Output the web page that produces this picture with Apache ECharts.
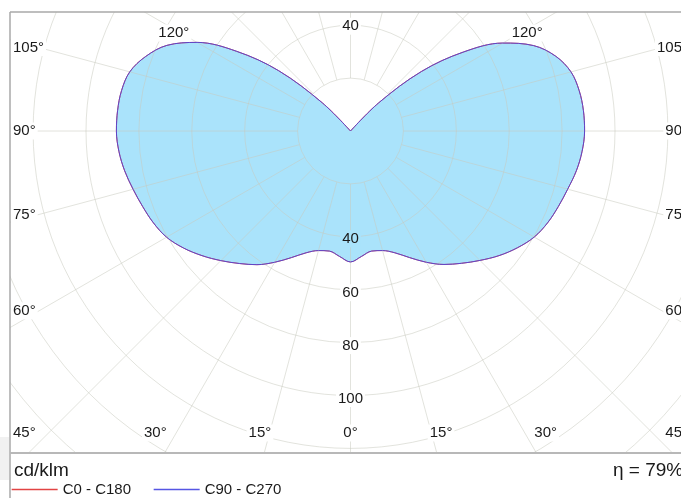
<!DOCTYPE html>
<html>
<head>
<meta charset="utf-8">
<script src="https://cdn.jsdelivr.net/npm/echarts@6/dist/echarts.min.js"></script>
<style>
  html, body { margin: 0; padding: 0; background: #fff; }
  #chart { width: 681px; height: 498px; }
</style>
</head>
<body>
<div id="chart"></div>
<script>
// Gamma angles of the measured sweep (0 = straight down, + = right half, - = left half)
const gammaAngles = [
  -180, -175, -170, -165, -160, -155, -150, -145, -140, -135, -130, -125,
  -120, -115, -110, -105, -100, -95, -90, -85, -80, -75, -70, -65,
  -60, -55, -50, -45, -40, -35, -30, -25, -20, -15, -10, -5,
  0, 5, 10, 15, 20, 25, 30, 35, 40, 45, 50, 55,
  60, 65, 70, 75, 80, 85, 90, 95, 100, 105, 110, 115,
  120, 125, 130, 135, 140, 145, 150, 155, 160, 165, 170, 175, 180
];

// Luminous intensity, cd/klm, C0 - C180 plane
const intensityC0C180 = [
  0, 0, 0, 0, 0, 0, 0, 0, 0, 15.0, 35.5, 52.5,
  67.0, 76.6, 82.4, 86.4, 87.9, 88.4, 88.5, 87.9, 86.7, 85.1, 83.6, 82.2,
  80.3, 77.1, 73.3, 69.3, 65.4, 61.7, 57.3, 52.8, 49.0, 46.8, 46.1, 47.6,
  49.5, 47.6, 46.1, 46.8, 49.0, 52.8, 57.3, 61.6, 65.3, 69.2, 73.3, 77.0,
  80.2, 82.2, 83.6, 85.0, 86.7, 87.9, 88.5, 88.4, 87.8, 86.3, 82.6, 76.4,
  66.5, 52.0, 35.0, 15.0, 0, 0, 0, 0, 0, 0, 0, 0, 0
];

// Luminous intensity, cd/klm, C90 - C270 plane
const intensityC90C270 = [
  0, 0, 0, 0, 0, 0, 0, 0, 0, 15.0, 35.5, 52.5,
  67.0, 76.6, 82.4, 86.4, 87.9, 88.4, 88.5, 87.9, 86.7, 85.1, 83.6, 82.2,
  80.3, 77.1, 73.3, 69.3, 65.4, 61.7, 57.3, 52.8, 49.0, 46.8, 46.1, 47.6,
  49.5, 47.6, 46.1, 46.8, 49.0, 52.8, 57.3, 61.6, 65.3, 69.2, 73.3, 77.0,
  80.2, 82.2, 83.6, 85.0, 86.7, 87.9, 88.5, 88.4, 87.8, 86.3, 82.6, 76.4,
  66.5, 52.0, 35.0, 15.0, 0, 0, 0, 0, 0, 0, 0, 0, 0
];

// Tick labels
const angleTickValues = [-120, -105, -90, -75, -60, -45, -30, -15, 0, 15, 30, 45, 60, 75, 90, 105, 120];
const radiusTicksDown = [40, 60, 80, 100];
const radiusTicksUp = [40];

const seriesNames = ['C0 - C180', 'C90 - C270'];
const unitText = 'cd/klm';
const efficiencyText = 'η = 79%';

// ---- layout ----
const CX = 350.5, CY = 131;           // pole of the diagram
const PX_PER_UNIT = 2.645;            // radial scale
const R_MAX = 180;                    // radial axis maximum
const R_PX = R_MAX * PX_PER_UNIT;
const FRAME = { left: 10, top: 12, bottom: 453, right: 691 };
const FONT = '"Liberation Sans", Arial, sans-serif';
const FILL = '#aae3fb';
const GRID = 'rgba(200,201,190,0.52)';
const RED = '#e24444', BLUE = '#5656e4';
const INK = '#1a1a1a';

const chart = echarts.init(document.getElementById('chart'), null, { renderer: 'canvas' });

// anchor each angle label where its spoke meets the inset frame
function angleLabel(a) {
  const g = Math.abs(a) * Math.PI / 180, s = a < 0 ? -1 : 1;
  const dx = s * Math.sin(g), dy = Math.cos(g);
  const text = Math.abs(a) + '°';
  let x, y, align = 'center';
  if (Math.abs(a) <= 45) {
    y = FRAME.bottom - 20;
    x = CX + dx / dy * (FRAME.bottom + 16 - CY);
    if (x - 13 < FRAME.left + 3) { x = FRAME.left + 1; align = 'left'; }
    if (x + 13 > FRAME.right - 3) { x = FRAME.right - 1; align = 'right'; }
  } else if (Math.abs(a) <= 105) {
    y = CY + dy / Math.abs(dx) * (CX - FRAME.left - 29);
    if (s < 0) { x = FRAME.left + 1; align = 'left'; }
    else { x = FRAME.right - 1; align = 'right'; }
  } else {
    y = FRAME.top + 21;
    x = CX + dx / (-dy) * (CY - FRAME.top - 17);
  }
  return {
    type: 'text', z: 120, silent: true,
    style: {
      text, x, y, align, verticalAlign: 'middle',
      font: '15px ' + FONT, fill: INK,
      backgroundColor: '#fff', padding: [1, 2, 1, 2]
    }
  };
}

const masks = [
  { type: 'rect', z: 100, silent: true, shape: { x: 0, y: 0, width: 681, height: FRAME.top }, style: { fill: '#fff' } },
  { type: 'rect', z: 100, silent: true, shape: { x: 0, y: 0, width: FRAME.left, height: 498 }, style: { fill: '#fff' } },
  { type: 'rect', z: 100, silent: true, shape: { x: 0, y: FRAME.bottom, width: 681, height: 498 - FRAME.bottom }, style: { fill: '#fff' } },
  { type: 'rect', z: 101, silent: true, shape: { x: 0, y: 437, width: FRAME.left - 1, height: 43 }, style: { fill: '#f1f1f1' } }
];

const frameLines = [
  { type: 'line', z: 110, silent: true, shape: { x1: FRAME.left, y1: FRAME.top, x2: 681, y2: FRAME.top }, style: { stroke: '#a8a8a8', lineWidth: 1.5 } },
  { type: 'line', z: 110, silent: true, shape: { x1: FRAME.left, y1: FRAME.top, x2: FRAME.left, y2: 498 }, style: { stroke: '#a8a8a8', lineWidth: 1.5 } },
  { type: 'line', z: 110, silent: true, shape: { x1: FRAME.left, y1: FRAME.bottom, x2: 681, y2: FRAME.bottom }, style: { stroke: '#b8b8b8', lineWidth: 2 } }
];

const footerTexts = [
  { type: 'text', z: 120, silent: true, style: { text: unitText, x: 14, y: 471, verticalAlign: 'middle', font: '19px ' + FONT, fill: INK } },
  { type: 'text', z: 120, silent: true, style: { text: efficiencyText, x: 613, y: 471, verticalAlign: 'middle', font: '19px ' + FONT, fill: INK } }
];

const radiusLabelData = radiusTicksDown.map((r, i) => ({
  value: [r, 0],
  label: i === 0 ? { backgroundColor: FILL, offset: [0, 2] } : { offset: [0, 3] }
})).concat(radiusTicksUp.map(r => ({ value: [r, 180], label: { offset: [0, 1] } })));

chart.setOption({
  animation: false,
  backgroundColor: '#fff',
  polar: [
    { center: [CX, CY], radius: [0, R_PX] },
    { center: [CX, CY], radius: [20 * PX_PER_UNIT, R_PX] }
  ],
  angleAxis: [
    {
      polarIndex: 0, type: 'value', min: -180, max: 180, startAngle: 90, clockwise: false,
      axisLine: { show: false }, axisTick: { show: false }, axisLabel: { show: false },
      splitLine: { show: false }
    },
    {
      polarIndex: 1, type: 'value', min: -180, max: 180, interval: 15, startAngle: 90, clockwise: false,
      z: 4,
      axisLine: { show: false }, axisTick: { show: false }, axisLabel: { show: false },
      splitLine: { show: true, lineStyle: { color: GRID, width: 1 } }
    }
  ],
  radiusAxis: [
    {
      polarIndex: 0, type: 'value', min: 0, max: R_MAX, interval: 20,
      z: 4,
      axisLine: { show: false }, axisTick: { show: false }, axisLabel: { show: false },
      splitLine: { show: true, lineStyle: { color: GRID, width: 1 } }
    },
    {
      polarIndex: 1, type: 'value', min: 0, max: R_MAX,
      axisLine: { show: false }, axisTick: { show: false }, axisLabel: { show: false },
      splitLine: { show: false }
    }
  ],
  legend: {
    left: 11, top: 482, padding: 0, z: 130,
    itemWidth: 46, itemHeight: 14, itemGap: 22,
    textStyle: { fontSize: 15, fontFamily: FONT, color: INK },
    data: [
      { name: seriesNames[0], itemStyle: { opacity: 0 }, lineStyle: { color: RED, width: 1.3, opacity: 1 } },
      { name: seriesNames[1], itemStyle: { opacity: 0 }, lineStyle: { color: BLUE, width: 1.3, opacity: 1 } }
    ]
  },
  series: [
    {
      name: seriesNames[0], type: 'line', coordinateSystem: 'polar', polarIndex: 0,
      data: gammaAngles.map((g, i) => [intensityC0C180[i], g]),
      symbol: 'none', z: 2, smooth: 0.35,
      itemStyle: { color: RED },
      lineStyle: { color: RED, width: 1 },
      areaStyle: { color: FILL, opacity: 1 }
    },
    {
      name: seriesNames[1], type: 'line', coordinateSystem: 'polar', polarIndex: 0,
      data: gammaAngles.map((g, i) => [intensityC90C270[i], g]),
      symbol: 'none', z: 6, smooth: 0.35,
      itemStyle: { color: BLUE },
      lineStyle: { color: '#4545e0', width: 1, opacity: 0.85 }
    },
    {
      name: 'radius-scale', type: 'scatter', coordinateSystem: 'polar', polarIndex: 0,
      data: radiusLabelData, symbolSize: 1, z: 8, silent: true,
      itemStyle: { color: '#fff', opacity: 1 },
      label: {
        show: true, position: 'inside', opacity: 1,
        formatter: p => String(p.value[0]),
        fontSize: 15, fontFamily: FONT, color: INK,
        textBorderWidth: 0, textBorderColor: 'transparent',
        backgroundColor: '#fff', padding: [1, 2, 1, 2]
      }
    }
  ],
  graphic: { elements: masks.concat(frameLines, angleTickValues.map(angleLabel), footerTexts) }
});
</script>
</body>
</html>
